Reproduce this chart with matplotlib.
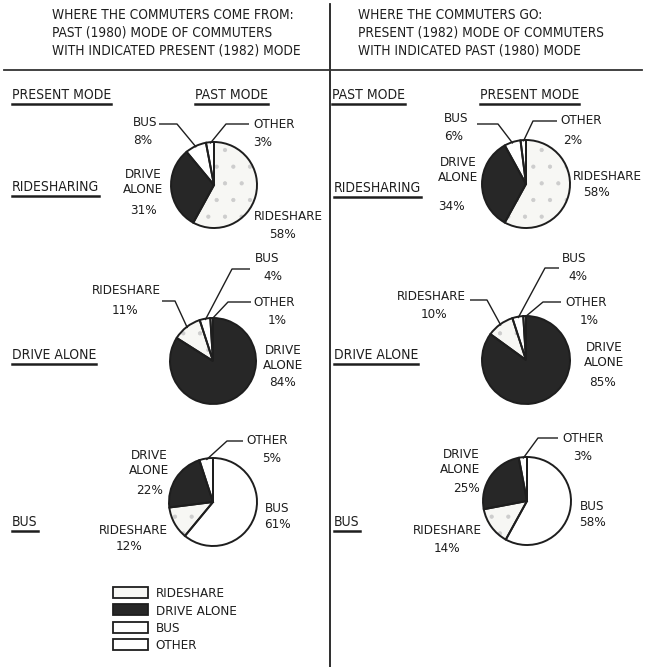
import matplotlib
matplotlib.use("Agg")
import matplotlib.pyplot as plt
from matplotlib.patches import Patch
import numpy as np

plt.rcParams["font.family"] = "DejaVu Sans"
plt.rcParams["font.stretch"] = "condensed"
plt.rcParams["hatch.linewidth"] = 0.6

W, H = 646, 667
INK = "#1e1e1e"

# commute modes and the share (%) of each mode, same order as `modes`
modes = ["RIDESHARE", "DRIVE ALONE", "BUS", "OTHER"]
fill = {"RIDESHARE": "#f7f7f4", "DRIVE ALONE": "#272727", "BUS": "white", "OTHER": "white"}

past_of_ridesharing = [58, 31, 8, 3]
past_of_drive_alone = [11, 84, 4, 1]
past_of_bus = [12, 22, 61, 5]
present_of_ridesharing = [58, 34, 6, 2]
present_of_drive_alone = [10, 85, 4, 1]
present_of_bus = [14, 25, 58, 3]

# wedges run counter-clockwise from 12 o'clock, own mode last
order_ridesharing = ["OTHER", "BUS", "DRIVE ALONE", "RIDESHARE"]
order_drive_alone = ["OTHER", "BUS", "RIDESHARE", "DRIVE ALONE"]
order_bus = ["OTHER", "DRIVE ALONE", "RIDESHARE", "BUS"]

fig = plt.figure(figsize=(W / 100, H / 100), dpi=100)
ax = fig.add_axes([0, 0, 1, 1])


def Y(py):
    return H - py


def txt(x, y, s, ha="left", size=9.6, **kw):
    return ax.text(x, Y(y), s, ha=ha, va="center", fontsize=size, color=INK,
                   linespacing=1.2, **kw)


# label layout: mode -> (name xy, pct xy, ha, leader (x_start, x_elbow, y) or None)
layouts = [
    (past_of_ridesharing, order_ridesharing, (214, 185, 43), {
        "OTHER": ((253, 125), (253, 142), "left", (249, 226, 124)),
        "BUS": ((133, 123), (133, 141), "left", (159, 177, 124)),
        "DRIVE ALONE": ((143, 182), (143, 210), "center", None),
        "RIDESHARE": ((288, 217), (282, 234), "center", None)}),
    (present_of_ridesharing, order_ridesharing, (526, 184, 44), {
        "OTHER": ((560, 121), (563, 140), "left", (557, 533, 121)),
        "BUS": ((444, 118), (444, 137), "left", (477, 498, 124)),
        "DRIVE ALONE": ((458, 170), (451, 207), "center", None),
        "RIDESHARE": ((607, 176), (596, 193), "center", None)}),
    (past_of_drive_alone, order_drive_alone, (213, 361, 43), {
        "RIDESHARE": ((126, 291), (125, 310), "center", (162, 175, 301)),
        "BUS": ((255, 258), (263, 277), "left", (250, 232, 269)),
        "OTHER": ((253, 302), (268, 320), "left", (251, 228, 302)),
        "DRIVE ALONE": ((283, 358), (283, 382), "center", None)}),
    (present_of_drive_alone, order_drive_alone, (526, 360, 44), {
        "RIDESHARE": ((431, 297), (434, 315), "center", (470, 487, 300)),
        "BUS": ((562, 258), (568, 277), "left", (559, 545, 268)),
        "OTHER": ((565, 302), (580, 320), "left", (561, 543, 302)),
        "DRIVE ALONE": ((604, 355), (602, 382), "center", None)}),
    (past_of_bus, order_bus, (213, 502, 44), {
        "OTHER": ((246, 441), (262, 458), "left", (243, 227, 441)),
        "DRIVE ALONE": ((149, 463), (150, 490), "center", None),
        "RIDESHARE": ((133, 531), (129, 547), "center", None),
        "BUS": ((277, 508), (277, 525), "center", None)}),
    (present_of_bus, order_bus, (527, 501, 44), {
        "OTHER": ((562, 438), (573, 457), "left", (558, 538, 438)),
        "DRIVE ALONE": ((480, 462), (480, 488), "right", None),
        "RIDESHARE": ((447, 531), (447, 548), "center", None),
        "BUS": ((592, 506), (593, 523), "center", None)}),
]

for values, order, (cx, cy, r), labels in layouts:
    share = dict(zip(modes, values))
    vals = [share[m] for m in order]
    # fills, with a light stipple on the rideshare wedge
    base, _ = ax.pie(vals, colors=[fill[m] for m in order], startangle=90,
                     counterclock=True, center=(cx, Y(cy)), radius=r,
                     wedgeprops=dict(linewidth=0))
    for w, m in zip(base, order):
        if m == "RIDESHARE":
            w.set_hatch(".")
            w.set_edgecolor("#cdcdcd")
    # outlines
    outl, _ = ax.pie(vals, colors=["none"] * 4, startangle=90,
                     counterclock=True, center=(cx, Y(cy)), radius=r,
                     wedgeprops=dict(linewidth=1.4, edgecolor=INK))
    for w, m in zip(outl, order):
        (nx, ny), (px, py), ha, lead = labels[m]
        if m == "DRIVE ALONE":
            txt(nx, ny, "DRIVE\nALONE", ha=ha, multialignment=ha)
        else:
            txt(nx, ny, m, ha=ha)
        txt(px, py, f"{share[m]}%", ha=ha)
        if lead is not None:
            a = np.deg2rad((w.theta1 + w.theta2) / 2)
            ex, ey = cx + 0.97 * r * np.cos(a), Y(cy) + 0.97 * r * np.sin(a)
            x0, x1, ly = lead
            ax.plot([x0, x1, ex], [Y(ly), Y(ly), ey], color=INK, lw=1.0,
                    solid_capstyle="butt")

# headings
for i, s in enumerate(["WHERE THE COMMUTERS COME FROM:",
                       "PAST (1980) MODE OF COMMUTERS",
                       "WITH INDICATED PRESENT (1982) MODE"]):
    txt(52, 15 + 18 * i, s, size=9.8)
for i, s in enumerate(["WHERE THE COMMUTERS GO:",
                       "PRESENT (1982) MODE OF COMMUTERS",
                       "WITH INDICATED PAST (1980) MODE"]):
    txt(358, 15 + 18 * i, s, size=9.8)

ax.plot([330, 330], [Y(4), Y(667)], color=INK, lw=1.3)
ax.plot([4, 642], [Y(70), Y(70)], color="#333333", lw=1.3)

underlined = [
    txt(12, 95, "PRESENT MODE", size=10),
    txt(195, 95, "PAST MODE", size=10),
    txt(332, 95, "PAST MODE", size=10),
    txt(480, 95, "PRESENT MODE", size=10),
    txt(12, 187, "RIDESHARING", size=10),
    txt(12, 355, "DRIVE ALONE", size=10),
    txt(12, 522, "BUS", size=10),
    txt(334, 188, "RIDESHARING", size=10),
    txt(334, 355, "DRIVE ALONE", size=10),
    txt(334, 522, "BUS", size=10),
]

handles = [Patch(facecolor=fill[m], edgecolor=INK, linewidth=1.3) for m in modes]
leg = ax.legend(handles, modes, loc="upper left", bbox_to_anchor=(113 / W, 1 - 587 / H),
                frameon=False, fontsize=9.6, handlelength=2.6, handleheight=0.9,
                handletextpad=0.6, labelspacing=0.32, borderpad=0, borderaxespad=0)
for t in leg.get_texts():
    t.set_color(INK)

ax.set_xlim(0, W)
ax.set_ylim(0, H)
ax.set_aspect("auto")
ax.axis("off")

# underline the column and row headings
fig.canvas.draw()
inv = ax.transData.inverted()
for t in underlined:
    bb = t.get_window_extent()
    (x0, y0), (x1, _) = inv.transform([(bb.x0, bb.y0), (bb.x1, bb.y1)])
    ax.plot([x0, x1], [y0 - 1.5, y0 - 1.5], color=INK, lw=1.8)

fig.savefig("out.png", dpi=100, facecolor="white")
